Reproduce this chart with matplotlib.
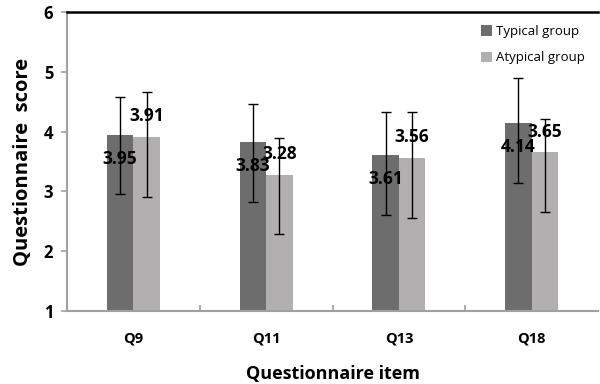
import matplotlib
matplotlib.use("Agg")
import matplotlib.pyplot as plt
import numpy as np

categories = ["Q9", "Q11", "Q13", "Q18"]
typical = [3.95, 3.83, 3.61, 4.14]
atypical = [3.91, 3.28, 3.56, 3.65]
typical_upper = [4.58, 4.46, 4.32, 4.90]
typical_lower = [2.95, 2.83, 2.61, 3.14]
atypical_upper = [4.66, 3.90, 4.32, 4.21]
atypical_lower = [2.91, 2.28, 2.56, 2.65]

plt.rcParams['font.family'] = ['Open Sans', 'DejaVu Sans']

fig = plt.figure(figsize=(6, 3.84), dpi=100)
ax = fig.add_axes([0.1117, 0.19, 0.885, 0.779])

x = np.arange(len(categories))
w = 0.2
dark = "#6d6d6d"
light = "#b1afaf"

t = np.array(typical); a = np.array(atypical)
terr = [t - np.array(typical_lower), np.array(typical_upper) - t]
aerr = [a - np.array(atypical_lower), np.array(atypical_upper) - a]

ax.bar(x - w/2, t - 1, w, bottom=1, color=dark, label="Typical group", zorder=2)
ax.bar(x + w/2, a - 1, w, bottom=1, color=light, label="Atypical group", zorder=2)
ax.errorbar(x - w/2, t, yerr=terr, fmt='none', ecolor='black', elinewidth=1, capsize=3.5, capthick=1, zorder=3)
ax.errorbar(x + w/2, a, yerr=aerr, fmt='none', ecolor='black', elinewidth=1, capsize=3.5, capthick=1, zorder=3)

for xi, v in zip(x - w/2, t):
    ax.annotate(f"{v:.2f}", (xi, v), xytext=(0, -17.5), textcoords='offset points',
                ha='center', va='center', fontsize=12.5, fontweight='bold', zorder=4)
for xi, v in zip(x + w/2, a):
    ax.annotate(f"{v:.2f}", (xi, v), xytext=(0, 15), textcoords='offset points',
                ha='center', va='center', fontsize=12.5, fontweight='bold', zorder=4)

ax.set_xlim(-0.5, 3.5)
ax.set_ylim(1, 6)
ax.set_yticks([1, 2, 3, 4, 5, 6])
ax.set_xticks(x)
ax.set_xticklabels(categories)
ax.set_xticks([0.5, 1.5, 2.5], minor=True)
ax.tick_params(axis='x', which='major', length=0, labelsize=10.5, pad=15)
ax.tick_params(axis='x', which='minor', direction='in', length=4, color='#a0a0a0', width=1.2)
ax.tick_params(axis='y', direction='out', length=4, color='#a0a0a0', width=1.2, labelsize=12, pad=6)
for lbl in ax.get_xticklabels() + ax.get_yticklabels():
    lbl.set_fontweight('bold')

ax.spines['left'].set_color('#a0a0a0')
ax.spines['left'].set_linewidth(1.5)
ax.spines['bottom'].set_color('#a0a0a0')
ax.spines['bottom'].set_linewidth(1.5)
ax.spines['top'].set_color('black')
ax.spines['top'].set_linewidth(1.8)
ax.spines['right'].set_visible(False)

ax.set_xlabel("Questionnaire item", fontsize=13, fontweight='bold', labelpad=14)
ax.set_ylabel("Questionnaire  score", fontsize=14.5, fontweight='bold', labelpad=8)

leg = ax.legend(loc='upper right', bbox_to_anchor=(1.0, 1.0), frameon=False, fontsize=9.5,
                handlelength=0.8, handleheight=0.8, handletextpad=0.3, labelspacing=1.0,
                borderaxespad=0.6)

fig.savefig("out.png", dpi=100)
